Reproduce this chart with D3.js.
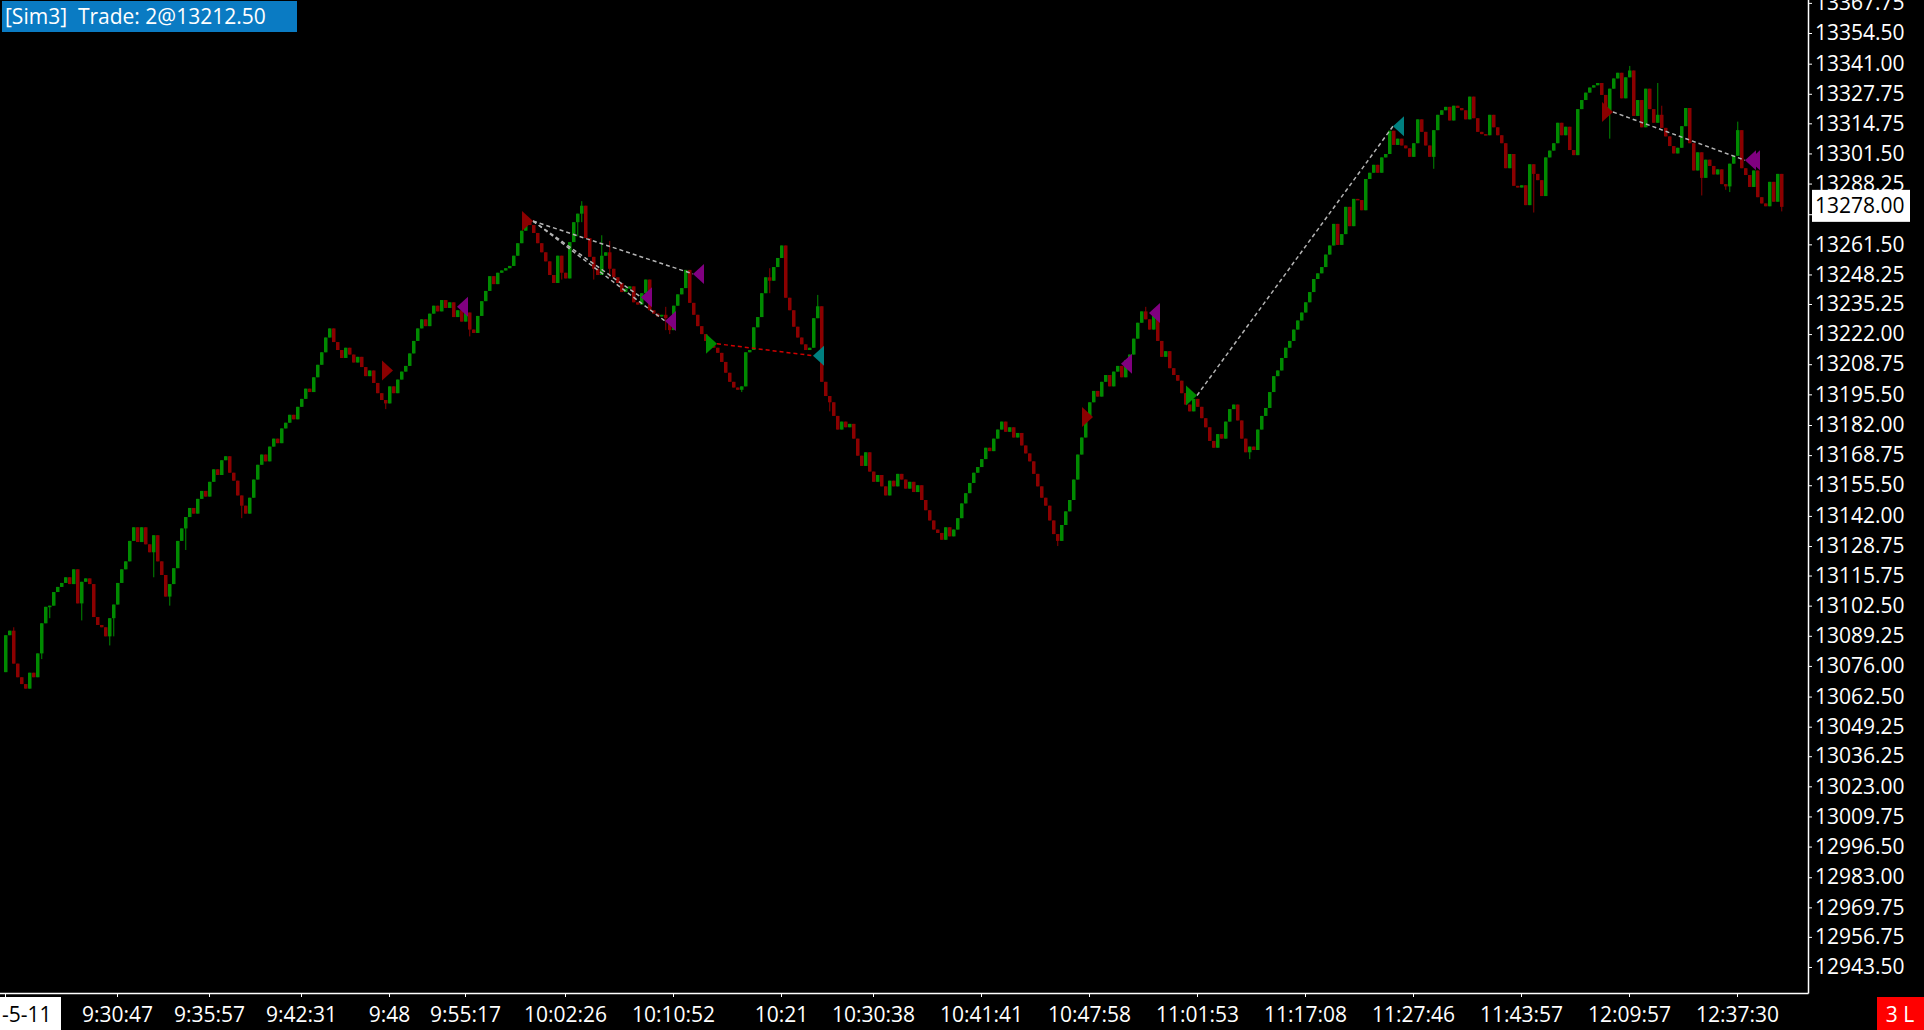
<html>
<head>
<meta charset="utf-8">
<script src="https://d3js.org/d3.v7.min.js"></script>
<style>
    body{
        margin:0;
        background:#000;
        overflow:hidden;
    }
    svg text{
        font-family:"Open Sans", "Noto Sans", sans-serif;
    }
</style>
</head>
<body>
<script>
    // bar data, open of a bar = close of the bar before
    let firstOpen = 13073.25;
    let closes = [
        // 0 - 45
        13089.5, 13091.5, 13077, 13071, 13068, 13066, 13073, 13071, 13081.5, 13094.75,
        13102, 13102.5, 13108.5, 13110.75, 13112.5, 13115, 13112, 13118.5, 13103.5, 13113,
        13114.5, 13112, 13097.5, 13094, 13093, 13089, 13097, 13103, 13112.5, 13118.5,
        13122, 13131, 13137, 13130.5, 13137, 13129.5, 13126, 13133.5, 13122, 13116,
        13106.5, 13112, 13119, 13131, 13136.5, 13141.5,
        // 46 - 99
        13145.5, 13143, 13149.5, 13153, 13150.5, 13157, 13162.5, 13160, 13166.5, 13168.25,
        13161, 13157.5, 13151, 13146.5, 13143, 13150, 13158, 13164.5, 13169, 13166,
        13172.5, 13176, 13174, 13180.5, 13183, 13186.5, 13184.5, 13190, 13193.5, 13198,
        13196.5, 13203, 13208.5, 13214, 13220.5, 13224.5, 13218.5, 13215, 13211.5, 13216,
        13213, 13209.5, 13212, 13207.5, 13203.5, 13206, 13200.5, 13196, 13193, 13191.5,
        13199, 13196, 13202, 13205.5,
        // 100 - 123
        13208, 13213.5, 13219, 13224.5, 13228.5, 13225.5, 13231, 13234.5, 13232, 13237,
        13233.5, 13236, 13229.5, 13232.5, 13227.5, 13231.5, 13224, 13222.5, 13230, 13236.5,
        13241, 13247.5, 13244, 13249,
        // 124 - 206
        13250, 13251, 13252, 13256.5, 13262, 13267.5, 13271.75, 13270, 13266.5, 13262,
        13258, 13254, 13248, 13244.5, 13256.5, 13249, 13246.5, 13262.5, 13271.25, 13275,
        13278.5, 13264.25, 13256, 13250.75, 13248, 13256.5, 13258, 13250.75, 13247, 13244.5,
        13240.5, 13242, 13243, 13236, 13235, 13240, 13246, 13232.5, 13231, 13229.75,
        13230.5, 13229, 13223.75, 13234.5, 13239.5, 13242.25, 13250.25, 13235.75, 13230.5, 13225.5,
        13222, 13219, 13217, 13216, 13213.75, 13209.75, 13205, 13201, 13198.5, 13197.5,
        13199, 13214, 13215, 13225, 13229.5, 13240, 13247, 13245.5, 13251.5, 13255.5,
        13261, 13238, 13232.5, 13225.25, 13220.5, 13217.5, 13215, 13216, 13229, 13234.25,
        13201, 13194.75, 13192,
        // 207 - 266
        13186, 13180, 13183.5, 13181, 13182.5, 13176, 13168.5, 13164, 13170, 13161.5,
        13157, 13160, 13155, 13151, 13157.5, 13155, 13160.5, 13158, 13154, 13157,
        13152.5, 13155.5, 13149, 13144.5, 13140, 13136, 13134.5, 13131.5, 13137, 13133,
        13136, 13141, 13147.5, 13152, 13156.5, 13161, 13163.5, 13167, 13172, 13170.5,
        13176, 13180, 13183.5, 13179, 13181, 13176.5, 13178.5, 13173, 13169.5, 13166,
        13160.5, 13155, 13150, 13146.5, 13140, 13134, 13131, 13138, 13144, 13149,
        // 267 - 324
        13158, 13169, 13176.5, 13185, 13192, 13197, 13194.5, 13201, 13204, 13199,
        13205.5, 13208, 13203, 13210.5, 13213, 13220, 13227, 13232, 13228.5, 13224,
        13230, 13219, 13212, 13214.5, 13207, 13204, 13201.5, 13196, 13191, 13188,
        13193.5, 13190, 13185, 13181, 13175, 13172, 13178, 13176, 13183.5, 13189,
        13191, 13184, 13176, 13170, 13172.5, 13171, 13180, 13186, 13189.5, 13196.5,
        13203.5, 13206, 13211.5, 13216, 13219, 13224, 13228, 13231.5,
        // 325 - 411
        13236, 13240.5, 13246.25, 13248.75, 13251.5, 13257, 13261, 13270.5, 13261.25, 13266,
        13278, 13269.5, 13281.5, 13281, 13276.5, 13290.25, 13293, 13296.5, 13293, 13299.75,
        13301.25, 13311.5, 13305.25, 13308, 13305, 13303.75, 13300, 13306, 13316.5, 13311,
        13305, 13300, 13311.75, 13318.5, 13320.5, 13322, 13316, 13322.5, 13321.5, 13320.5,
        13316.5, 13326.5, 13317, 13311, 13310, 13309.5, 13318.5, 13313, 13309.5, 13306,
        13295, 13301.25, 13287.25, 13286.5, 13287.5, 13278.75, 13296.75, 13292.5, 13289.75, 13282.75,
        13299.75, 13302.75, 13306, 13315, 13309.5, 13313.25, 13303, 13300.75, 13321, 13325,
        13328.25, 13330.5, 13331.5, 13332.5, 13327.25, 13320, 13330, 13334.5, 13337, 13325.75,
        13335, 13338, 13318, 13325, 13313, 13330, 13321,
        // 412 - 444
        13315, 13318.5, 13312.75, 13309, 13304.75, 13301.5, 13304, 13313.5, 13321.5, 13306,
        13294, 13302, 13290.75, 13298.75, 13296, 13292.25, 13294.5, 13288, 13287, 13297,
        13300.5, 13311.75, 13295, 13292, 13286.75, 13294, 13282.25, 13279.5, 13278.25, 13289,
        13280.25, 13292.5, 13278
    ];

    // wicks that stick out of the body: [bar, high, low]
    let wicks = [
        [2, 13093, 13077], [9, 13094.75, 13079], [11, 13102.5, 13097], [19, 13113, 13096],
        [26, 13097, 13085], [27, 13103, 13089], [37, 13133.5, 13115], [41, 13112, 13102.5],
        [45, 13141.5, 13127], [59, 13151, 13141], [95, 13193, 13189], [116, 13231.5, 13221],
        [139, 13256.5, 13246], [143, 13275, 13265], [144, 13280.5, 13271.25], [147, 13256, 13246],
        [149, 13265.5, 13248], [151, 13263, 13247], [165, 13234, 13223.75], [166, 13229, 13222],
        [184, 13199, 13196.5], [191, 13251, 13240], [203, 13239.25, 13229], [206, 13194.75, 13188],
        [263, 13134, 13128.75], [285, 13234, 13228.5], [311, 13172.5, 13167], [357, 13311.75, 13294.75],
        [382, 13296.75, 13275.5], [401, 13330, 13308], [406, 13340, 13335], [413, 13332.5, 13315],
        [414, 13322.5, 13312.75], [424, 13298.75, 13283], [430, 13288, 13285.5], [431, 13297, 13284.5],
        [433, 13315.5, 13300.5], [444, 13292.5, 13276]
    ];

    let priceTicks = [13367.75, 13354.50, 13341.00, 13327.75, 13314.75, 13301.50, 13288.25, 13274.75,
        13261.50, 13248.25, 13235.25, 13222.00, 13208.75, 13195.50, 13182.00, 13168.75, 13155.50,
        13142.00, 13128.75, 13115.75, 13102.50, 13089.25, 13076.00, 13062.50, 13049.25, 13036.25,
        13023.00, 13009.75, 12996.50, 12983.00, 12969.75, 12956.75, 12943.50];

    let timeLabels = ["9:30:47", "9:35:57", "9:42:31", "9:48", "9:55:17", "10:02:26", "10:10:52",
        "10:21", "10:30:38", "10:41:41", "10:47:58", "11:01:53", "11:17:08", "11:27:46", "11:43:57",
        "12:09:57", "12:37:30"];
    let timeBars = [28, 51, 74, 96, 115, 140, 167, 194, 217, 244, 271, 298, 325, 352, 379, 406, 433];

    // executions: E = sell entry, X = exit, B = buy entry, T = buy exit
    let markerBars = [95, 111, 130, 157, 163, 170, 176, 200, 270, 277, 284, 296, 345, 400, 433, 434];
    let markerPrices = [13206, 13234, 13271.75, 13238.25, 13227.75, 13248.5, 13217.75, 13212.5,
        13185.5, 13209, 13231.25, 13195, 13313.5, 13319.75, 13298.5, 13298.5];
    let markerKinds = ["E", "X", "E", "X", "X", "X", "B", "T", "E", "X", "X", "B", "T", "E", "X", "X"];

    // trade lines between executions (indexes into the marker arrays)
    let tradeFrom = [2, 2, 2, 6, 11, 13];
    let tradeTo = [5, 3, 4, 7, 12, 14];
    let tradeWin = [true, true, true, false, true, true];

    let width = 1924, height = 1030;
    let plotRight = 1808, plotBottom = 993;

    let svg = d3.select("body").append("svg")
        .attr("width", width)
        .attr("height", height)
        .style("background", "#000");

    let x = d3.scaleLinear()
        .domain([0, closes.length - 1])
        .range([5, 5 + 4 * (closes.length - 1)]);
    let y = d3.scaleLinear()
        .domain([12943.5, 13354.5])
        .range([967, 33]);

    let bars = closes.map(function(c, i){
        let o = i == 0 ? firstOpen : closes[i - 1];
        return {i: i, o: o, c: c, h: Math.max(o, c), l: Math.min(o, c)};
    });
    wicks.forEach(function(w){
        bars[w[0]].h = Math.max(bars[w[0]].h, w[1]);
        bars[w[0]].l = Math.min(bars[w[0]].l, w[2]);
    });

    let green = "#008a00", red = "#8b0000";
    let colorOf = d => d.c >= d.o ? green : red;

    svg.append("clipPath").attr("id", "plot")
        .append("rect").attr("x", 0).attr("y", 0).attr("width", plotRight).attr("height", plotBottom);
    let plot = svg.append("g").attr("clip-path", "url(#plot)");

    // candles
    plot.append("g").selectAll("line")
        .data(bars)
        .enter().append("line")
        .attr("x1", d => x(d.i) + 0.75)
        .attr("x2", d => x(d.i) + 0.75)
        .attr("y1", d => y(d.h))
        .attr("y2", d => y(d.l))
        .attr("stroke", colorOf)
        .attr("stroke-width", 1);

    plot.append("g").selectAll("rect")
        .data(bars)
        .enter().append("rect")
        .attr("x", d => x(d.i) - 1)
        .attr("width", 3.5)
        .attr("y", d => y(Math.max(d.o, d.c)))
        .attr("height", d => Math.max(1.5, y(Math.min(d.o, d.c)) - y(Math.max(d.o, d.c))))
        .attr("fill", colorOf);

    // dashed trade lines, apex to apex
    let apexX = i => x(markerBars[i]) + 8;
    plot.append("g").selectAll("line")
        .data(tradeFrom.map((f, k) => ({f: f, t: tradeTo[k], win: tradeWin[k]})))
        .enter().append("line")
        .attr("x1", d => apexX(d.f))
        .attr("y1", d => y(markerPrices[d.f]))
        .attr("x2", d => apexX(d.t))
        .attr("y2", d => y(markerPrices[d.t]))
        .attr("stroke", d => d.win ? "#b4b4b4" : "#d00000")
        .attr("stroke-width", 1.5)
        .attr("stroke-dasharray", "4,3");

    // execution triangles
    let markerColor = {E: "#8b0000", X: "#800080", B: "#008a00", T: "#008080"};
    plot.append("g").selectAll("path")
        .data(markerBars.map((b, k) => ({b: b, p: markerPrices[k], k: markerKinds[k]})))
        .enter().append("path")
        .attr("d", function(d){
            let ax = x(d.b) + 8, ay = y(d.p);
            if (d.k == "E" || d.k == "B") {
                return `M${ax - 11},${ay - 10}L${ax},${ay}L${ax - 11},${ay + 10}Z`;
            }
            return `M${ax + 11},${ay - 10}L${ax},${ay}L${ax + 11},${ay + 10}Z`;
        })
        .attr("fill", d => markerColor[d.k]);

    // price axis
    let yAxis = d3.axisRight(y)
        .tickValues(priceTicks)
        .tickSize(4)
        .tickPadding(3)
        .tickFormat(d3.format(".2f"));
    let yAxisG = svg.append("g")
        .attr("transform", `translate(${plotRight}, 0)`)
        .call(yAxis);
    yAxisG.select(".domain").remove();
    yAxisG.selectAll("line").attr("stroke", "#fff");
    yAxisG.selectAll("text").attr("fill", "#fff").style("font-size", "21px")
        .style("font-family", "'Open Sans', sans-serif");

    // time axis
    let xAxis = d3.axisBottom(x)
        .tickValues(timeBars)
        .tickSize(4)
        .tickPadding(10)
        .tickFormat((d, i) => timeLabels[i]);
    let xAxisG = svg.append("g")
        .attr("transform", `translate(0, ${plotBottom})`)
        .call(xAxis);
    xAxisG.select(".domain").remove();
    xAxisG.selectAll("line").attr("stroke", "#fff");
    xAxisG.selectAll("text").attr("fill", "#fff").style("font-size", "21px")
        .style("font-family", "'Open Sans', sans-serif");

    // frame lines
    svg.append("line")
        .attr("x1", plotRight + 0.5).attr("x2", plotRight + 0.5)
        .attr("y1", 0).attr("y2", plotBottom + 0.5)
        .attr("stroke", "#fff").attr("stroke-width", 1.5);
    svg.append("line")
        .attr("x1", 0).attr("x2", plotRight + 0.5)
        .attr("y1", plotBottom + 0.5).attr("y2", plotBottom + 0.5)
        .attr("stroke", "#fff").attr("stroke-width", 1.5);
    svg.append("line")
        .attr("x1", x(0) + 0.5).attr("x2", x(0) + 0.5)
        .attr("y1", plotBottom).attr("y2", plotBottom + 4)
        .attr("stroke", "#fff");

    // last price box
    let lastPrice = closes[closes.length - 1];
    svg.append("rect")
        .attr("x", plotRight + 4).attr("y", y(lastPrice) - 17)
        .attr("width", 98).attr("height", 32)
        .attr("fill", "#fff");
    svg.append("text")
        .attr("x", plotRight + 7).attr("y", y(lastPrice) - 1)
        .attr("dy", "0.35em")
        .attr("fill", "#000")
        .style("font-size", "21px")
        .text(d3.format(".2f")(lastPrice));

    // account / trade label
    svg.append("rect")
        .attr("x", 2).attr("y", 1).attr("width", 295).attr("height", 31)
        .attr("fill", "#0a7bc3");
    svg.append("text")
        .attr("x", 5).attr("y", 24)
        .attr("fill", "#fff")
        .style("font-size", "21px")
        .style("white-space", "pre")
        .text("[Sim3]  Trade: 2@13212.50");

    // date box bottom left
    svg.append("rect")
        .attr("x", 0).attr("y", 997).attr("width", 61).attr("height", 33)
        .attr("fill", "#fff");
    svg.append("text")
        .attr("x", 2).attr("y", 1022)
        .attr("fill", "#000")
        .style("font-size", "21px")
        .text("-5-11");

    // position box bottom right
    svg.append("rect")
        .attr("x", 1877).attr("y", 997).attr("width", 47).attr("height", 33)
        .attr("fill", "#ff0000");
    svg.append("text")
        .attr("x", 1900).attr("y", 1022)
        .attr("text-anchor", "middle")
        .attr("fill", "#fff")
        .style("font-size", "21px")
        .style("white-space", "pre")
        .text("3 L");
</script>
</body>
</html>
